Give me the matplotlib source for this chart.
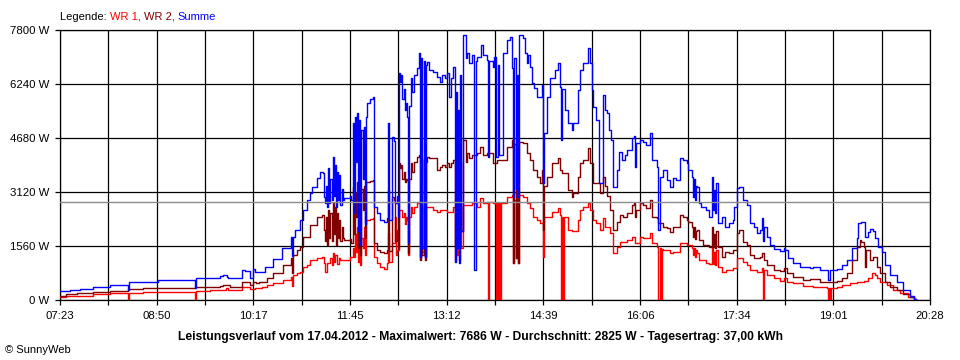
import numpy as np
import matplotlib
matplotlib.use("Agg")
import matplotlib.pyplot as plt

wr1 = [(0, 80), (5, 120), (15, 130), (30, 170), (45, 200), (61, 0), (62, 210), (75, 220), (102, 230),
       (122, 0), (123, 260), (135, 280), (144, 290), (150, 350), (152, 290), (164, 380), (171, 330),
       (176, 360), (182, 380), (187, 430), (192, 480), (201, 580), (208, 660), (209, 400), (210, 720),
       (214, 780), (217, 820), (219, 950), (223, 1010), (226, 1160), (232, 1210), (236, 1240), (238, 1070),
       (239, 800), (241, 1070), (244, 1200), (245, 1000), (246, 1360), (247, 1100), (248, 1300), (250, 1050),
       (252, 1200), (253, 1160), (259, 1160), (262, 1250), (264, 1500), (265, 1240), (266, 1900), (267, 1400),
       (268, 2100), (269, 1100), (270, 2000), (271, 1000), (272, 1800), (273, 1500), (274, 2100), (275, 1300),
       (276, 2300), (277, 2310), (280, 2340), (282, 2370), (283, 1240), (286, 1070), (289, 950), (292, 900),
       (295, 1070), (296, 1940), (297, 1100), (300, 1650), (302, 2400), (303, 1300), (304, 1440), (306, 2600),
       (309, 2400), (310, 2500), (311, 2200), (312, 2400), (313, 2310), (314, 1300), (315, 2400), (317, 2690),
       (318, 2500), (319, 2700), (322, 2800), (324, 2800), (325, 1240), (326, 2750), (327, 1400), (328, 2700),
       (329, 1240), (330, 2700), (331, 2690), (337, 2600), (340, 2540), (343, 2600), (349, 2540), (355, 2690),
       (356, 1160), (357, 2600), (358, 1300), (359, 2500), (360, 1160), (361, 2700), (362, 1500), (364, 2750),
       (372, 2800), (376, 2690), (379, 2950), (382, 2800), (385, 2830), (386, 0), (387, 2830), (391, 2800),
       (393, 0), (394, 2800), (395, 0), (396, 2800), (397, 0), (398, 2800), (403, 2980), (408, 3030),
       (409, 1070), (410, 2900), (411, 1200), (412, 2800), (413, 1070), (414, 3030), (418, 2980), (421, 2800),
       (424, 2660), (427, 2400), (430, 2310), (433, 2220), (436, 1240), (437, 2400), (444, 2540), (449, 2660),
       (451, 2450), (452, 0), (453, 2400), (454, 0), (455, 2400), (458, 2020), (462, 1990), (467, 2310),
       (469, 2600), (472, 2690), (476, 2800), (478, 2600), (481, 2310), (484, 2220), (487, 2020), (490, 2370),
       (492, 2110), (496, 1940), (499, 1360), (503, 1530), (505, 1680), (512, 1730), (516, 1820), (519, 1650),
       (523, 1820), (526, 1790), (532, 1940), (534, 1650), (539, 1530), (540, 0), (541, 1500), (542, 0),
       (543, 1480), (544, 1440), (550, 1360), (553, 1400), (559, 1650), (566, 1590), (570, 1500), (571, 1300),
       (572, 1500), (573, 1250), (574, 1450), (575, 1360), (577, 1160), (583, 1070), (586, 1050), (588, 1530),
       (589, 1050), (590, 1400), (591, 1000), (592, 1450), (594, 950), (597, 810), (601, 870), (607, 920),
       (611, 1210), (616, 1100), (620, 1010), (623, 870), (629, 810), (633, 920), (634, 0), (635, 870),
       (638, 720), (644, 640), (650, 560), (653, 640), (656, 520), (661, 490), (670, 400), (679, 380),
       (692, 350), (693, 0), (694, 350), (695, 0), (696, 350), (701, 380), (706, 430), (713, 490), (719, 510),
       (725, 540), (729, 640), (733, 780), (735, 720), (737, 640), (740, 520), (746, 430), (752, 290),
       (758, 200), (765, 90), (771, 30), (772, 0)]

wr2 = [(0, 120), (5, 170), (15, 210), (30, 240), (45, 270), (61, 310), (75, 340), (90, 360), (122, 370),
       (135, 380), (144, 410), (147, 430), (153, 380), (164, 530), (171, 430), (174, 530), (177, 480),
       (180, 530), (187, 640), (192, 790), (201, 1010), (208, 1200), (209, 780), (210, 1300), (214, 1440),
       (217, 1540), (219, 1820), (223, 1830), (226, 2170), (232, 2400), (236, 2460), (238, 2020), (239, 1700),
       (240, 2400), (241, 1600), (242, 2600), (243, 1800), (244, 2500), (245, 1700), (246, 2800), (247, 1900),
       (248, 2700), (249, 1600), (250, 2500), (251, 1800), (252, 2300), (253, 1700), (254, 2100), (255, 1800),
       (256, 1730), (262, 1760), (263, 1650), (264, 3270), (265, 1900), (266, 3100), (267, 2400), (268, 3400),
       (269, 1500), (270, 3300), (271, 1300), (272, 3200), (273, 2600), (274, 3300), (275, 1800), (276, 3400),
       (277, 3410), (280, 3450), (282, 3470), (283, 1650), (286, 1450), (289, 1390), (292, 1360), (295, 1450),
       (296, 3180), (297, 1420), (300, 2980), (301, 2900), (302, 1700), (304, 2020), (305, 1500), (306, 3960),
       (307, 3800), (308, 3900), (309, 3500), (310, 3700), (311, 3400), (312, 3500), (313, 3470), (314, 1360),
       (315, 3500), (317, 3960), (318, 3700), (319, 4000), (322, 4130), (324, 4190), (325, 1160), (326, 4100),
       (327, 1300), (328, 4050), (329, 1160), (330, 4000), (331, 4130), (333, 4100), (337, 4100), (340, 3760),
       (343, 3840), (345, 3900), (347, 3840), (349, 3960), (351, 3840), (353, 3960), (355, 4050), (356, 1530),
       (357, 3800), (358, 1700), (359, 3500), (360, 1530), (361, 4000), (362, 2000), (364, 4620), (366, 4000),
       (367, 4250), (369, 4100), (372, 4190), (376, 4250), (379, 4420), (382, 4190), (385, 4250), (390, 4250),
       (391, 3960), (394, 4050), (403, 4420), (408, 4620), (409, 1070), (410, 4500), (411, 1200), (412, 4400),
       (413, 1070), (414, 4560), (418, 4530), (421, 4250), (424, 4050), (427, 3760), (430, 3550), (433, 3380),
       (435, 3760), (436, 2020), (437, 3300), (439, 3550), (444, 3960), (449, 4100), (451, 3760), (453, 3670),
       (458, 3180), (462, 2980), (463, 3090), (467, 3550), (469, 3960), (472, 4050), (476, 4390), (478, 3960),
       (481, 3380), (487, 3090), (490, 3550), (492, 3300), (494, 3000), (496, 2600), (499, 2020), (503, 2250),
       (505, 2460), (508, 2400), (512, 2510), (516, 2750), (518, 2800), (519, 2400), (520, 2600), (523, 2800),
       (526, 2750), (529, 2660), (532, 2890), (534, 2400), (539, 2370), (540, 2220), (544, 2110), (548, 2080),
       (550, 1960), (553, 2110), (559, 2460), (562, 2400), (566, 2310), (567, 2250), (570, 2110), (571, 1820),
       (572, 2100), (573, 1750), (574, 2000), (575, 2020), (577, 1730), (580, 1590), (586, 1530), (588, 2110),
       (589, 1530), (590, 1900), (591, 1500), (592, 2000), (594, 1530), (597, 1240), (600, 1390), (604, 1360),
       (607, 1440), (611, 1940), (613, 2020), (616, 1680), (620, 1590), (623, 1300), (626, 1210), (632, 1240),
       (633, 1360), (635, 1160), (638, 1010), (644, 870), (650, 840), (653, 920), (656, 780), (661, 660),
       (670, 580), (677, 610), (686, 520), (692, 520), (701, 550), (706, 640), (710, 780), (715, 1160),
       (719, 1530), (722, 1730), (723, 1680), (725, 1530), (726, 950), (727, 1440), (731, 1160), (734, 1240),
       (737, 950), (740, 780), (744, 520), (749, 380), (755, 290), (761, 170), (767, 90), (771, 30), (772, 0)]

summe = [(0, 250), (9, 290), (18, 320), (30, 380), (45, 420), (61, 290), (62, 510), (88, 580), (122, 350),
         (123, 630), (144, 690), (147, 720), (151, 660), (152, 640), (164, 870), (167, 840), (171, 640),
         (174, 900), (176, 810), (182, 810), (185, 950), (192, 1180), (200, 1500), (208, 1820), (209, 1270),
         (210, 1820), (212, 2020), (217, 2310), (219, 2600), (223, 2890), (226, 3090), (227, 3270), (232, 3520),
         (235, 3700), (237, 3670), (238, 2980), (239, 2800), (240, 3300), (241, 2700), (242, 3800), (243, 2800),
         (244, 3500), (245, 2900), (246, 4130), (247, 3000), (248, 3900), (249, 2700), (250, 3700), (251, 2900),
         (252, 3600), (253, 2750), (254, 3200), (255, 2900), (256, 2950), (262, 3000), (263, 2900), (264, 5100),
         (265, 2500), (266, 5300), (267, 4000), (268, 5400), (269, 2000), (270, 5200), (271, 1600), (272, 4900),
         (273, 3500), (274, 5000), (275, 2200), (276, 5300), (277, 5690), (280, 5800), (282, 5860), (283, 2690),
         (286, 2500), (289, 2310), (292, 2250), (295, 2370), (296, 5110), (297, 2300), (300, 4710), (301, 4600),
         (302, 2800), (304, 3000), (305, 2400), (306, 6560), (307, 6300), (308, 6500), (309, 5800), (310, 6100),
         (311, 5500), (312, 5700), (313, 5300), (314, 1650), (315, 5600), (317, 6400), (318, 6000), (319, 6500),
         (322, 6700), (324, 7140), (325, 1240), (326, 7000), (327, 1500), (328, 6900), (329, 1240), (330, 6800),
         (331, 6880), (333, 6650), (337, 6590), (340, 6440), (343, 6300), (345, 6500), (347, 6400), (349, 6560),
         (351, 5860), (353, 6400), (355, 6730), (356, 1100), (357, 6000), (358, 1500), (359, 5500), (360, 1070),
         (361, 6500), (362, 2000), (364, 7660), (366, 7000), (367, 7140), (369, 6850), (372, 7080), (374, 870),
         (375, 6900), (376, 7020), (380, 7370), (382, 7080), (385, 6930), (386, 4130), (387, 6900), (391, 6730),
         (392, 7020), (393, 4130), (395, 6800), (396, 4200), (400, 7140), (403, 7510), (406, 7600), (408, 6700),
         (409, 2980), (410, 7000), (411, 3200), (412, 6500), (413, 2980), (414, 7660), (418, 7570), (420, 7140),
         (421, 6850), (422, 7080), (424, 6730), (426, 6270), (428, 6120), (430, 5860), (433, 5860), (435, 6210),
         (436, 3380), (437, 4830), (439, 5860), (442, 6410), (447, 6650), (449, 6850), (451, 6150), (452, 4620),
         (453, 6100), (456, 5490), (458, 5110), (462, 4910), (463, 5110), (467, 6070), (469, 6650), (472, 6850),
         (476, 7280), (478, 6850), (480, 6070), (481, 5580), (484, 5200), (486, 3380), (490, 5920), (492, 5490),
         (494, 5400), (495, 4910), (497, 4620), (499, 3270), (503, 3760), (504, 4280), (507, 4050), (510, 4190),
         (512, 4330), (516, 4680), (518, 4740), (519, 3840), (520, 4530), (523, 4620), (526, 4560), (529, 4480),
         (532, 4830), (534, 4050), (539, 3840), (540, 2020), (541, 3550), (544, 3760), (548, 3470), (550, 3270),
         (553, 3520), (556, 3470), (559, 4100), (562, 4050), (566, 3960), (567, 3760), (570, 3550), (571, 2980),
         (572, 3500), (573, 2900), (574, 3300), (575, 3270), (577, 2800), (578, 2690), (583, 2600), (586, 2400),
         (588, 3550), (589, 2600), (590, 3180), (591, 2500), (592, 3380), (594, 2220), (597, 2400), (600, 2110),
         (604, 2220), (607, 2310), (608, 2690), (611, 3240), (613, 3270), (616, 2890), (620, 2750), (623, 2220),
         (626, 2110), (629, 1940), (632, 2020), (633, 2370), (634, 1700), (635, 2110), (638, 1820), (641, 1590),
         (644, 1470), (650, 1420), (653, 1500), (654, 1440), (657, 1210), (661, 1070), (668, 950), (677, 920),
         (679, 950), (686, 870), (692, 870), (693, 580), (695, 870), (701, 900), (706, 1010), (710, 1160),
         (715, 1500), (719, 1790), (720, 2220), (723, 2250), (726, 1820), (729, 1960), (731, 2050), (734, 1990),
         (735, 1790), (738, 1530), (742, 1390), (744, 1010), (749, 720), (755, 520), (761, 290), (767, 120),
         (771, 30), (772, 0)]

durchschnitt = 2825
y_ticks = [0, 1560, 3120, 4680, 6240, 7800]
x_labels = ["07:23", "08:50", "10:17", "11:45", "13:12", "14:39", "16:06", "17:34", "19:01", "20:28"]
span = 785  # 07:23 .. 20:28 in minutes

FONT = "Liberation Sans"
W, H = 960, 360
fig = plt.figure(figsize=(W / 100, H / 100), dpi=100)
ax = fig.add_axes([60 / W, 60 / H, 870 / W, 270 / H])

for data, col in ((wr1, "#ff0000"), (wr2, "#800000"), (summe, "#0000ff")):
    t, p = np.array(data).T
    ax.plot(t, p, drawstyle="steps-post", color=col, lw=1.0, zorder=3)
ax.axhline(durchschnitt, color="#8c8c8c", lw=1.0, zorder=4)

ax.set_xlim(0, span)
ax.set_ylim(0, 7800)
xt = np.linspace(0, span, 19)
ax.set_xticks(xt)
ax.set_xticklabels([x_labels[i // 2] if i % 2 == 0 else "" for i in range(19)])
ax.set_yticks(y_ticks)
ax.set_yticklabels([f"{v} W" for v in y_ticks])
ax.grid(True, color="black", lw=0.9, zorder=1)
ax.set_axisbelow(True)
for s in ax.spines.values():
    s.set_color("black")
    s.set_linewidth(0.9)
ax.tick_params(direction="out", length=3.6, width=0.9, color="black", pad=4, labelsize=8.2)
for lab in ax.get_xticklabels() + ax.get_yticklabels():
    lab.set_fontfamily(FONT)

# legend line at the top, coloured word by word
r = fig.canvas.get_renderer()
x = 60
for word, col in (("Legende: ", "black"), ("WR 1, ", "#ff0000"), ("WR 2, ", "#800000"), ("Summe", "#0000ff")):
    tx = fig.text(x / W, 1 - 16.5 / H, word, color=col, fontsize=8, family=FONT, va="center", ha="left")
    x += tx.get_window_extent(r).width

fig.text(0.5, 1 - 337 / H,
         "Leistungsverlauf vom 17.04.2012 - Maximalwert: 7686 W - Durchschnitt: 2825 W - Tagesertrag: 37,00 kWh",
         ha="center", va="center", fontsize=8.7, fontweight="bold", family=FONT)
fig.text(5 / W, 1 - 350 / H, "\u00a9 SunnyWeb", ha="left", va="center", fontsize=8, family=FONT)

fig.savefig("out.png", dpi=100)
